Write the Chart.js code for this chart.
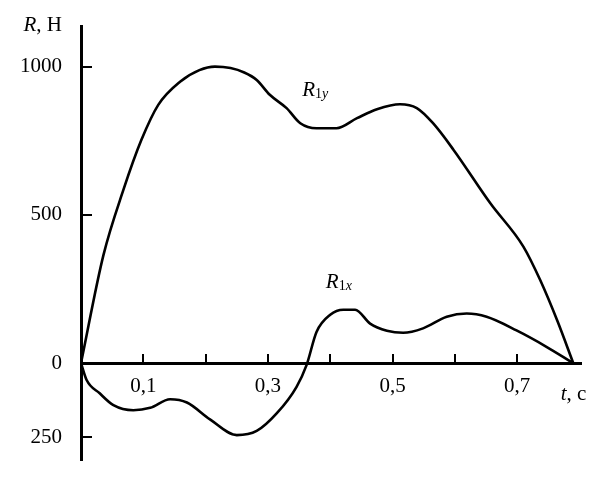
<!DOCTYPE html>
<html>
<head>
<meta charset="utf-8">
<script src="https://cdn.jsdelivr.net/npm/chart.js@4"></script>
<style>
  html, body { margin: 0; padding: 0; background: #fff; }
  #wrap { width: 603px; height: 480px; }
</style>
</head>
<body>
<div id="wrap"><canvas id="chart"></canvas></div>
<script>
// time, s
const tR1y = [0, 0.036, 0.068, 0.097, 0.124, 0.159, 0.19, 0.215, 0.24, 0.262, 0.282, 0.303, 0.33, 0.352, 0.378, 0.41, 0.443, 0.475, 0.512, 0.539, 0.565, 0.598, 0.657, 0.71, 0.737, 0.765, 0.79];
// R1y, N
const r1y = [0, 364, 584, 753, 871, 949, 988, 1000, 995, 980, 955, 905, 860, 809, 792, 792, 826, 856, 873, 860, 809, 719, 539, 393, 280, 140, 0];

const tR1x = [0, 0.009, 0.03, 0.052, 0.084, 0.111, 0.143, 0.17, 0.207, 0.25, 0.282, 0.314, 0.346, 0.362, 0.378, 0.4, 0.421, 0.44, 0.464, 0.491, 0.517, 0.549, 0.587, 0.619, 0.651, 0.699, 0.747, 0.79];
const r1x = [0, -57, -102, -142, -159, -151, -122, -133, -190, -243, -229, -170, -80, -7, 105, 163, 180, 180, 133, 109, 102, 117, 156, 167, 156, 110, 55, 0];

const xTicks = [0.1, 0.2, 0.3, 0.4, 0.5, 0.6, 0.7];
const xTickLabels = ["0,1", "", "0,3", "", "0,5", "", "0,7"];
const yTicks = [-250, 0, 500, 1000];
const yTickLabels = ["250", "0", "500", "1000"];

const serif = '"Liberation Serif", "Times New Roman", serif';

function toPoints(ts, vs) {
    return ts.map((t, i) => ({x: t, y: vs[i]}));
}

// draws pieces of text one after another, e.g. italic R then subscript
function drawParts(ctx, x, y, parts, align) {
    let width = 0;
    parts.forEach(p => {
        ctx.font = p.font;
        width += ctx.measureText(p.text).width;
    });
    let cx = align === "right" ? x - width : x;
    ctx.textAlign = "left";
    ctx.textBaseline = "alphabetic";
    parts.forEach(p => {
        ctx.font = p.font;
        ctx.fillText(p.text, cx, y + (p.dy || 0));
        cx += ctx.measureText(p.text).width;
    });
}

const textPlugin = {
    id: "texts",
    afterDraw(chart) {
        const {ctx, chartArea, scales} = chart;
        const x = scales.x, y = scales.y;
        ctx.save();
        ctx.fillStyle = "#000";
        // axis names
        drawParts(ctx, chartArea.left - 19, chartArea.top + 5, [
            {text: "R", font: `italic 21px ${serif}`},
            {text: ", H", font: `21px ${serif}`},
        ], "right");
        drawParts(ctx, x.getPixelForValue(0.77), y.getPixelForValue(0) + 37, [
            {text: "t", font: `italic 21px ${serif}`},
            {text: ", c", font: `21px ${serif}`},
        ], "left");
        // curve names
        drawParts(ctx, x.getPixelForValue(0.355), y.getPixelForValue(900), [
            {text: "R", font: `italic 21px ${serif}`},
            {text: "1", font: `14px ${serif}`, dy: 2},
            {text: "y", font: `italic 14px ${serif}`, dy: 2},
        ], "left");
        drawParts(ctx, x.getPixelForValue(0.393), y.getPixelForValue(253), [
            {text: "R", font: `italic 21px ${serif}`},
            {text: "1", font: `14px ${serif}`, dy: 2},
            {text: "x", font: `italic 14px ${serif}`, dy: 2},
        ], "left");
        ctx.restore();
    }
};

const lineStyle = {
    borderColor: "#000",
    borderWidth: 2.6,
    pointRadius: 0,
    fill: false,
    cubicInterpolationMode: "monotone",
};

function noPadding(scale) {
    scale.paddingTop = 0;
    scale.paddingBottom = 0;
    scale.paddingLeft = 0;
    scale.paddingRight = 0;
}

new Chart(document.getElementById("chart"), {
    type: "line",
    data: {
        datasets: [
            Object.assign({label: "R1y", data: toPoints(tR1y, r1y)}, lineStyle),
            Object.assign({label: "R1x", data: toPoints(tR1x, r1x)}, lineStyle),
        ]
    },
    options: {
        responsive: true,
        maintainAspectRatio: false,
        animation: false,
        layout: {padding: {left: 21, right: 22, top: 26, bottom: 20}},
        plugins: {
            legend: {display: false},
            tooltip: {enabled: false},
        },
        scales: {
            x: {
                type: "linear",
                min: 0,
                max: 0.8025,
                position: {y: 0},
                afterFit: noPadding,
                border: {color: "#000", width: 3},
                grid: {drawOnChartArea: false, color: "#000", lineWidth: 2, tickLength: -11},
                afterBuildTicks: scale => {
                    scale.ticks = xTicks.map(v => ({value: v}));
                },
                ticks: {
                    color: "#000",
                    padding: 22,
                    maxRotation: 0,
                    autoSkip: false,
                    font: {family: serif, size: 21},
                    callback: (value, index) => xTickLabels[index],
                },
            },
            y: {
                type: "linear",
                min: -327,
                max: 1137,
                position: "left",
                afterFit: scale => {
                    scale.width = 60;
                    noPadding(scale);
                },
                border: {color: "#000", width: 3},
                grid: {drawOnChartArea: false, color: "#000", lineWidth: 2, tickLength: -11},
                afterBuildTicks: scale => {
                    scale.ticks = yTicks.map(v => ({value: v}));
                },
                ticks: {
                    color: "#000",
                    padding: 30,
                    autoSkip: false,
                    font: {family: serif, size: 21},
                    callback: (value, index) => yTickLabels[index],
                },
            },
        },
    },
    plugins: [textPlugin],
});
</script>
</body>
</html>
